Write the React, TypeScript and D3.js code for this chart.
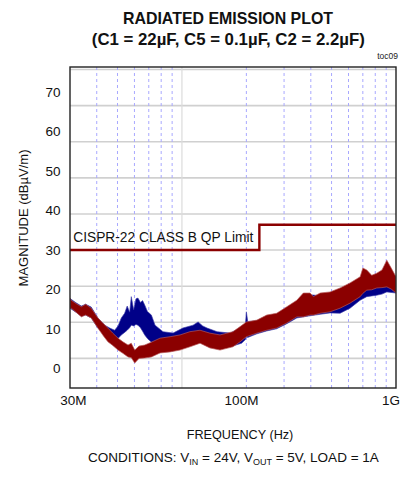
import React from "react";
import * as d3 from "d3";

// ---- data (frequency in MHz, magnitude in dBµV/m) ----
const redFreq = [30, 30.4, 32, 33.9, 35.5, 37.7, 40.5, 43, 45.1, 47.5, 50.3, 53, 56, 58, 60.2, 63, 67, 72, 79, 88, 98, 109, 121.5, 135, 150.6, 173, 187, 200, 224, 249, 277, 309, 344, 369, 397, 411, 442, 492, 548, 610, 680, 700, 730, 770, 813, 860, 906, 950, 1000];
const redHi = [16.6, 16.1, 15.2, 14.3, 15.0, 13.9, 11.2, 9.6, 8.4, 7.0, 5.6, 4.6, 3.7, 4.2, 2.3, 3.4, 3.7, 4.5, 5.6, 6.0, 6.5, 7.4, 7.8, 7.0, 6.5, 7.4, 8.8, 10.1, 10.6, 12.0, 12.5, 14.3, 16.1, 18.1, 18.1, 17.1, 18.1, 18.4, 19.5, 20.9, 22.6, 25.0, 24.5, 23.0, 23.6, 24.5, 27.2, 25.0, 22.6];
const redLo = [13.9, 13.9, 12.8, 11.5, 12.0, 11.2, 8.4, 6.2, 4.6, 3.6, 2.3, 1.4, 0.4, 0.2, -1.3, 0.0, 0.1, 0.4, 1.5, 1.8, 2.3, 3.2, 4.2, 2.9, 2.3, 3.2, 4.6, 6.0, 7.0, 7.8, 8.4, 9.8, 11.5, 11.5, 12.0, 12.0, 12.5, 12.9, 13.9, 15.3, 17.1, 18.0, 18.9, 19.0, 19.5, 19.6, 19.8, 19.2, 18.1];

const blueFreq = [30, 32, 33.9, 35.5, 37.7, 40.5, 43.6, 46, 48.5, 50.3, 52.1, 54, 55.5, 57, 58, 59.5, 61, 62.3, 64, 65.5, 67, 69, 72, 74.9, 81.6, 90.9, 101, 112.7, 119, 125, 131, 146, 168, 190, 198, 200, 203, 224, 249, 277, 309, 344, 397, 442, 492, 548, 610, 680, 730, 813, 860, 906, 1000];
const blueHi = [16.6, 15.4, 14.5, 15.0, 14.2, 11.2, 9.2, 8.4, 7.8, 9.0, 11.2, 12.5, 14.5, 12.8, 17.1, 13.5, 16.5, 16.7, 15.5, 16.0, 14.8, 13.0, 12.0, 9.2, 7.4, 7.0, 8.4, 9.2, 10.1, 9.0, 8.4, 7.4, 7.0, 8.6, 9.4, 12.9, 10.2, 10.4, 11.6, 12.2, 14.0, 15.8, 17.6, 17.4, 17.0, 16.1, 17.5, 18.9, 19.8, 19.8, 20.2, 20.9, 19.5];
const blueLo = [13.9, 12.8, 11.7, 12.0, 11.2, 8.4, 6.5, 5.6, 5.1, 5.5, 6.5, 7.2, 7.8, 8.5, 9.2, 9.0, 9.4, 9.2, 8.5, 7.5, 6.5, 5.5, 4.5, 4.5, 3.7, 3.7, 4.5, 5.6, 6.0, 5.0, 4.5, 3.7, 3.2, 4.2, 5.2, 6.0, 5.8, 6.8, 7.6, 8.2, 9.6, 11.2, 11.8, 12.2, 12.6, 12.5, 13.9, 16.1, 17.1, 17.5, 17.8, 18.4, 18.1];

const limitFreq = [30, 230, 230, 1000];
const limitVal = [30, 30, 37, 37];

const yGrid = [0, 10, 20, 30, 40, 50, 60, 70, 80];
const yTickLabels = [0, 10, 20, 30, 40, 50, 60, 70];
const xMinor = [40, 50, 60, 70, 80, 90, 200, 300, 400, 500, 600, 700, 800, 900];
const xMajor = [100];
const xTickValues = [30, 100, 1000];
const xTickText = ["30M", "100M", "1G"];

const W = 401;
const H = 477;
const L = 70, R = 396, T = 67, B = 388;

const FONT = "'Liberation Sans', Arial, Helvetica, sans-serif";

export default function App() {
  const x = d3.scaleLog().domain([30, 1000]).range([L, R]);
  const y = d3.scaleLinear().domain([-8.2, 80.7]).range([B, T]);
  // label placement scales (labels in the original sit slightly off the grid)
  const yLab = d3.scaleLinear().domain([0, 70]).range([368.3, 91.7]);
  const xLab = d3.scaleLog().domain([30, 100, 1000]).range([73.3, 241.5, 391]);

  const band = (f: number[], lo: number[], hi: number[]) =>
    d3
      .area<number>()
      .x((i) => x(f[i]))
      .y0((i) => y(lo[i]))
      .y1((i) => y(hi[i]))
      .curve(d3.curveLinear)(d3.range(f.length)) || "";

  const limitPath =
    d3
      .line<number>()
      .x((i) => x(limitFreq[i]))
      .y((i) => y(limitVal[i]))(d3.range(limitFreq.length)) || "";

  return (
    <svg
      width={W}
      height={H}
      style={{ position: "absolute", left: 0, top: 0, background: "#fff" }}
      fontFamily={FONT}
    >
      <defs>
        <clipPath id="plotClip">
          <rect x={L} y={T} width={R - L} height={B - T} />
        </clipPath>
      </defs>
      <rect x={0} y={0} width={W} height={H} fill="#fff" />

      {/* title */}
      <text x={228} y={23.5} textAnchor="middle" fontWeight="bold" fontSize={17} textLength={210} lengthAdjust="spacingAndGlyphs" fill="#111">
        RADIATED EMISSION PLOT
      </text>
      <text x={228.3} y={45} textAnchor="middle" fontWeight="bold" fontSize={17} textLength={273} lengthAdjust="spacingAndGlyphs" fill="#111">
        (C1 = 22µF, C5 = 0.1µF, C2 = 2.2µF)
      </text>
      <text x={398} y={59} textAnchor="end" fontSize={8.5} fill="#222">
        toc09
      </text>

      {/* grid */}
      <g clipPath="url(#plotClip)">
        {yGrid.map((v) => (
          <line key={"gy" + v} x1={L} x2={R} y1={y(v)} y2={y(v)} stroke="#d0d0d0" strokeWidth={1.6} />
        ))}
        {xMinor.map((f) => (
          <line key={"gx" + f} x1={x(f)} x2={x(f)} y1={T} y2={B} stroke="#a8a8ff" strokeWidth={1} strokeDasharray="3,3" />
        ))}
        {xMajor.map((f) => (
          <line key={"gX" + f} x1={x(f)} x2={x(f)} y1={T} y2={B} stroke="#dcdcdc" strokeWidth={1.2} />
        ))}

        {/* data bands */}
        <path d={band(blueFreq, blueLo, blueHi)} fill="#000088" stroke="#3a3aa8" strokeOpacity={0.7} strokeWidth={0.9} />
        <path d={band(redFreq, redLo, redHi)} fill="#8b0000" stroke="#b85a5a" strokeOpacity={0.75} strokeWidth={0.9} />

        {/* limit */}
        <path d={limitPath} fill="none" stroke="#8b0000" strokeWidth={2.4} />
      </g>

      <text x={73.3} y={241.5} fontSize={14} textLength={180} lengthAdjust="spacingAndGlyphs" fill="#111">
        CISPR-22 CLASS B QP Limit
      </text>

      {/* frame */}
      <rect x={L} y={T} width={R - L} height={B - T} fill="none" stroke="#222" strokeWidth={1.4} />

      {/* y tick labels */}
      {yTickLabels.map((v) => (
        <text key={"yl" + v} x={60.5} y={yLab(v) + 5} textAnchor="end" fontSize={13.5} fill="#111">
          {v}
        </text>
      ))}

      {/* x tick labels */}
      {xTickValues.map((f, i) => (
        <text key={"xl" + f} x={xLab(f)} y={405} textAnchor="middle" fontSize={13.5} fill="#111">
          {xTickText[i]}
        </text>
      ))}

      {/* axis titles */}
      <text x={240} y={439} textAnchor="middle" fontSize={13.5} textLength={106.7} lengthAdjust="spacingAndGlyphs" fill="#111">
        FREQUENCY (Hz)
      </text>
      <text transform="translate(27.5,218) rotate(-90)" textAnchor="middle" fontSize={13.5} textLength={137} lengthAdjust="spacingAndGlyphs" fill="#111">
        MAGNITUDE (dBµV/m)
      </text>

      <text x={88} y={462} fontSize={13.5} fill="#111">
        <tspan>CONDITIONS: V</tspan>
        <tspan fontSize={9} dy={3}>IN</tspan>
        <tspan dy={-3}> = 24V, V</tspan>
        <tspan fontSize={9} dy={3}>OUT</tspan>
        <tspan dy={-3}> = 5V, LOAD = 1A</tspan>
      </text>
    </svg>
  );
}
